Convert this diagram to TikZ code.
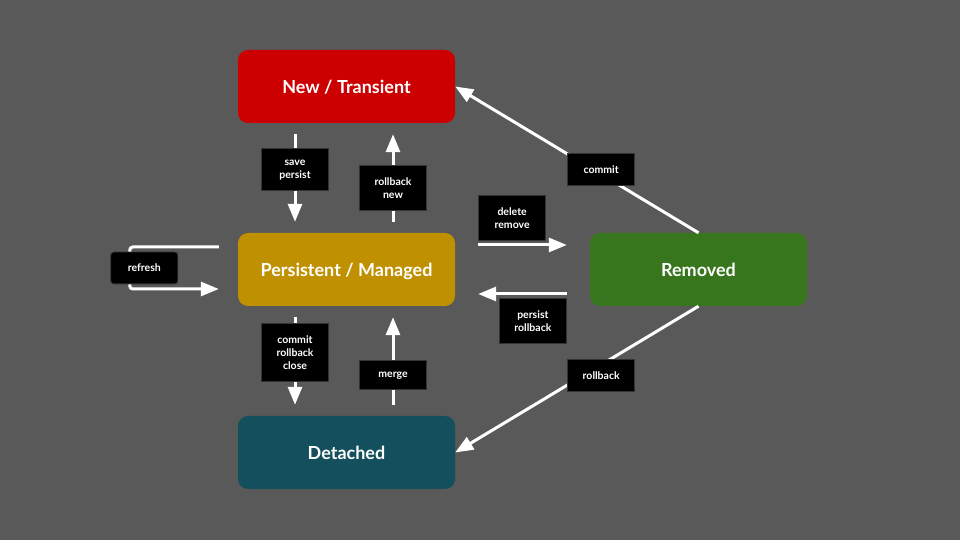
\documentclass[tikz,border=0pt]{standalone}
\usepackage{fontspec}
\setmainfont{Lato}
\usepackage{tikz}
\usetikzlibrary{arrows.meta}
\definecolor{bg}{HTML}{595959}
\definecolor{newred}{HTML}{CC0000}
\definecolor{managedgold}{HTML}{BF9000}
\definecolor{detachedteal}{HTML}{134F5C}
\definecolor{removedgreen}{HTML}{38761D}
\definecolor{tagline}{HTML}{333333}

\begin{document}
\begin{tikzpicture}[x=1pt, y=1pt, >={Triangle[length=18pt,width=14pt]},
  state/.style={rounded corners=10pt, minimum width=217pt, minimum height=73pt,
    text=white, text depth=0pt, font=\fontsize{18}{21}\selectfont\bfseries},
  tag/.style={fill=black, draw=tagline, line width=0.8pt, text=white,
    minimum width=67pt, inner ysep=12pt, text depth=0pt, align=center,
    font=\fontsize{10.5}{13}\selectfont\bfseries},
  flow/.style={->, white, line width=3pt}]
  \fill[bg] (0,0) rectangle (960,540);
  % states
  \node[state, fill=newred] (new) at (346.5,453.5) {New / Transient};
  \node[state, fill=managedgold] (pers) at (346.5,270.5) {Persistent / Managed};
  \node[state, fill=detachedteal] (det) at (346.5,87.5) {Detached};
  \node[state, fill=removedgreen] (rem) at (698.5,270.5) {Removed};
  % transitions
  \draw[flow] ([shift={(-51.5,-11)}]new.south) -- node[tag, pos=.4] {save\\persist} ([shift={(-51.5,11)}]pers.north);
  \draw[flow] ([shift={(46.5,11)}]pers.north) -- node[tag, pos=.39] {rollback\\new} ([shift={(46.5,-11)}]new.south);
  \draw[flow] ([shift={(-51.5,-11)}]pers.south) -- node[tag, pos=.4] {commit\\rollback\\close} ([shift={(-51.5,11)}]det.north);
  \draw[flow] ([shift={(46.5,11)}]det.north) -- node[tag, pos=.34] {merge} ([shift={(46.5,-11)}]pers.south);
  \draw[flow, rounded corners=3pt] ([shift={(-19,22.5)}]pers.west) -- ++(-89,0)
    -- node[tag, xshift=14.5pt] {refresh} ++(0,-42) -- ([shift={(-19,-19.5)}]pers.west);
  \draw[flow] ([shift={(23,24.5)}]pers.east) -- node[tag, pos=0, anchor=south west, yshift=4pt] {delete\\remove} ([shift={(-23,24.5)}]rem.west);
  \draw[flow] ([shift={(-23,-24.5)}]rem.west) -- node[tag, pos=0, anchor=north east, yshift=-4pt] {persist\\rollback} ([shift={(23,-24.5)}]pers.east);
  \draw[flow] (rem.north) -- node[tag, pos=.4, yshift=5pt] {commit} (new.east);
  \draw[flow] (rem.south) -- node[tag, pos=.4, yshift=-11pt] {rollback} (det.east);
\end{tikzpicture}
\end{document}
